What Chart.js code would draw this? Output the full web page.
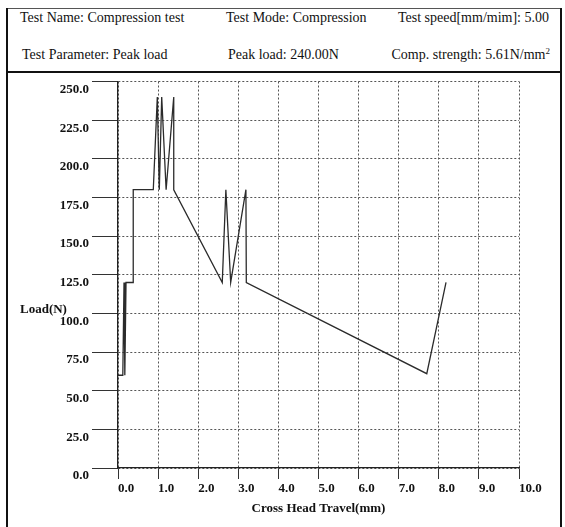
<!DOCTYPE html>
<html>
<head>
<meta charset="utf-8">
<script src="https://cdn.jsdelivr.net/npm/chart.js@4.4.1/dist/chart.umd.min.js"></script>
<style>
  html, body { margin: 0; padding: 0; background: #fff; }
  #wrap { position: relative; width: 565px; height: 527px; overflow: hidden;
          font-family: "Liberation Serif", "Times New Roman", serif; }
  #c { position: absolute; left: 0; top: 0; }
  .t { position: absolute; font-size: 14px; line-height: 16px; color: #111; white-space: nowrap; }
  .t sup { font-size: 9px; line-height: 0; vertical-align: 5px; }
  .ln { position: absolute; background: #111; }
</style>
</head>
<body>
<div id="wrap">
  <!-- report frame -->
  <div class="ln" style="left:6px;top:8px;width:555px;height:1px;background:#555"></div>
  <div class="ln" style="left:6px;top:8px;width:2px;height:519px"></div>
  <div class="ln" style="left:560px;top:8px;width:2px;height:519px"></div>
  <div class="ln" style="left:6px;top:71px;width:556px;height:2px"></div>

  <!-- report header -->
  <div class="t" style="left:20px;top:10px">Test Name: Compression test</div>
  <div class="t" style="left:226px;top:10px">Test Mode: Compression</div>
  <div class="t" style="right:16px;top:10px">Test speed[mm/mim]: 5.00</div>
  <div class="t" style="left:22px;top:47px">Test Parameter: Peak load</div>
  <div class="t" style="left:228px;top:47px">Peak load: 240.00N</div>
  <div class="t" style="right:15px;top:47px">Comp. strength: 5.61N/mm<sup>2</sup></div>

  <canvas id="c" width="565" height="527"></canvas>
</div>

<script>
// Load versus cross-head travel record
const travel = [0, 0.12, 0.15, 0.17, 0.2, 0.38, 0.38, 0.88, 0.98, 1.03, 1.09, 1.2, 1.39, 1.39,
                2.6, 2.69, 2.81, 3.19, 3.2, 7.7, 8.18];
const load   = [60, 60, 120, 60, 120, 120, 180, 180, 240, 180, 240, 180, 240, 180,
                120, 180, 120, 180, 120, 61, 120];

const xTickValues = [0, 1, 2, 3, 4, 5, 6, 7, 8, 9, 10];
const xTickLabels = ['0.0', '1.0', '2.0', '3.0', '4.0', '5.0', '6.0', '7.0', '8.0', '9.0', '10.0'];
const yTickValues = [0, 25, 50, 75, 100, 125, 150, 175, 200, 225, 250];
const yTickLabels = ['0.0', '25.0', '50.0', '75.0', '100.0', '125.0', '150.0', '175.0', '200.0', '225.0', '250.0'];

const xTitle = 'Cross Head Travel(mm)';
const yTitle = 'Load(N)';

const serif = '"Liberation Serif", "Times New Roman", serif';
const labelFont = { family: serif, size: 13, weight: 'bold' };

// horizontal y-axis caption drawn beside the tick labels
const yCaption = {
  id: 'yCaption',
  afterDraw(chart) {
    const ctx = chart.ctx;
    const ys = chart.scales.y;
    ctx.save();
    ctx.font = 'bold 13px ' + serif;
    ctx.fillStyle = '#111';
    ctx.textAlign = 'left';
    ctx.textBaseline = 'middle';
    ctx.fillText(yTitle, 20, ys.getPixelForValue(100) - 4);
    ctx.restore();
  }
};

const gridCommon = {
  color: '#555',
  lineWidth: 1,
  drawTicks: true,
  tickColor: '#333',
  tickWidth: 1,
  tickBorderDash: []
};
const borderCommon = { display: true, color: '#222', width: 1.3, dash: [2, 2] };

new Chart(document.getElementById('c'), {
  type: 'line',
  data: {
    datasets: [{
      data: travel.map((x, i) => ({ x, y: load[i] })),
      borderColor: '#2b2b2b',
      borderWidth: 1.3,
      pointRadius: 0,
      tension: 0,
      fill: false
    }]
  },
  options: {
    responsive: false,
    devicePixelRatio: 1,
    animation: false,
    layout: { padding: { left: 0, top: 81.5, right: 46, bottom: 0 } },
    plugins: { legend: { display: false }, tooltip: { enabled: false } },
    scales: {
      x: {
        type: 'linear',
        min: 0,
        max: 10,
        afterBuildTicks: s => { s.ticks = xTickValues.map(v => ({ value: v })); },
        afterFit: s => { s.height = 59; },
        grid: Object.assign({ tickLength: 11 }, gridCommon),
        border: borderCommon,
        ticks: {
          align: 'start',
          padding: 2,
          maxRotation: 0,
          autoSkip: false,
          color: '#111',
          font: labelFont,
          callback: (v, i) => xTickLabels[i]
        },
        title: {
          display: true,
          text: xTitle,
          color: '#111',
          font: labelFont,
          padding: { top: 0, bottom: 11 }
        }
      },
      y: {
        type: 'linear',
        min: 0,
        max: 250,
        afterBuildTicks: s => { s.ticks = yTickValues.map(v => ({ value: v })); },
        afterFit: s => { s.width = 118; },
        grid: Object.assign({ tickLength: 26 }, gridCommon),
        border: borderCommon,
        ticks: {
          padding: 3,
          labelOffset: 8,
          autoSkip: false,
          color: '#111',
          font: labelFont,
          callback: (v, i) => yTickLabels[i]
        }
      }
    }
  },
  plugins: [yCaption]
});
</script>
</body>
</html>
